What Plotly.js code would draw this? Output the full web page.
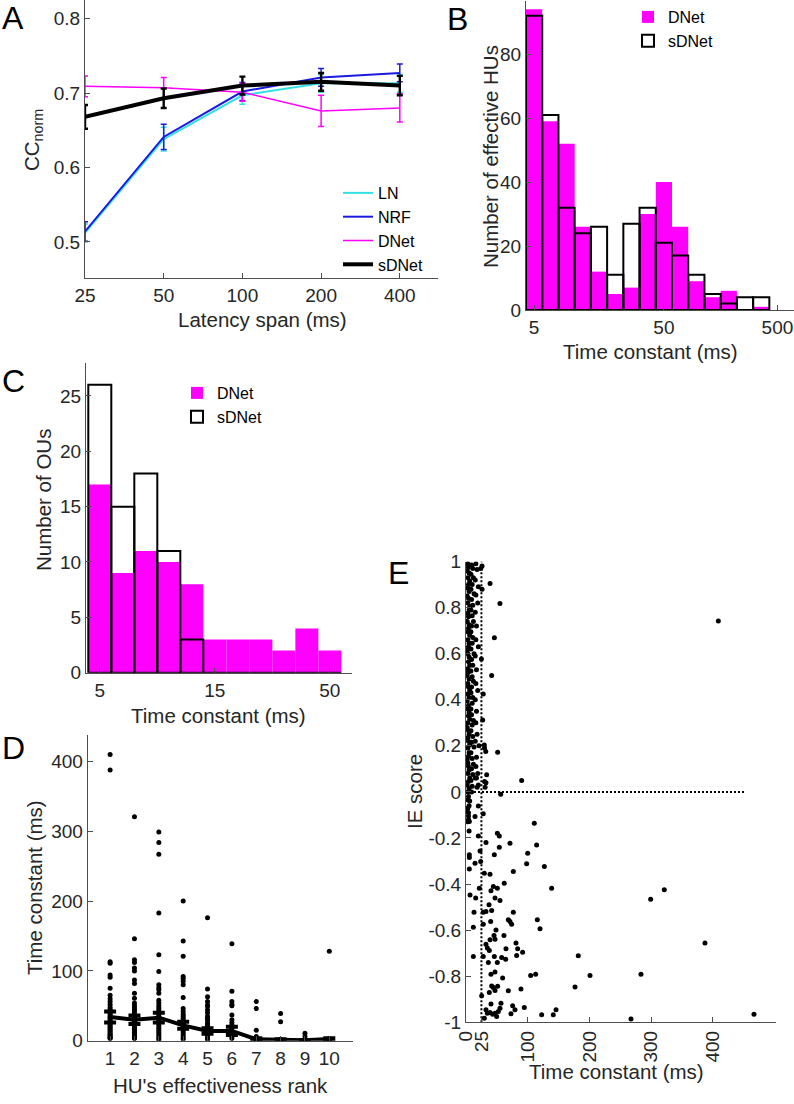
<!DOCTYPE html>
<html>
<head>
<meta charset="utf-8">
<script src="https://cdn.plot.ly/plotly-3.0.1.min.js"></script>
<style>
  html, body { margin: 0; padding: 0; background: #fff; }
  #fig { width: 794px; height: 1104px; }
</style>
</head>
<body>
<div id="fig"></div>
<script>
// ---- panel A: CCnorm vs latency span ----
var latency = [25, 50, 100, 200, 400];
var ccLN = [0.512, 0.638, 0.697, 0.713, 0.713];
var errLN = [0.012, 0.016, 0.012, 0.012, 0.012];
var ccNRF = [0.514, 0.641, 0.702, 0.721, 0.727];
var errNRF = [0.013, 0.017, 0.012, 0.012, 0.012];
var ccDNet = [0.709, 0.707, 0.701, 0.676, 0.680];
var errDNet = [0.014, 0.014, 0.012, 0.021, 0.019];
var ccSDNet = [0.668, 0.693, 0.710, 0.715, 0.710];
var errSDNet = [0.016, 0.013, 0.012, 0.012, 0.013];

// ---- panel B: histogram of HU time constants (log bins) ----
var binsB = [1, 2, 3, 4, 5, 6, 7, 8, 9, 10, 11, 12, 13, 14, 15];
var histB_DNet = [94, 59, 52, 26, 12, 5, 7, 30, 40, 26, 9, 4, 6, 0, 1];
var histB_sDNet = [92, 61, 32, 24, 26, 11, 27, 32, 21, 17, 11, 5, 2, 4, 4];
var tickPosB = [1, 9, 16];
var tickTextB = ['5', '50', '500'];

// ---- panel C: histogram of OU time constants ----
var binsC = [1, 2, 3, 4, 5, 6, 7, 8, 9, 10, 11];
var histC_DNet = [17, 9, 11, 10, 8, 3, 3, 3, 2, 4, 2];
var histC_sDNet = [26, 15, 18, 11, 3, 0, 0, 0, 0, 0, 0];
var tickPosC = [1, 6, 11];
var tickTextC = ['5', '15', '50'];

// ---- panel D: time constant vs effectiveness rank ----
var ranks = [1, 2, 3, 4, 5, 6, 7, 8, 9, 10];
var dRank1 = [410, 388, 113, 111, 94, 91, 75, 65, 60, 56, 52, 48, 45, 42, 40, 38, 35, 33, 31, 29, 27, 25, 23, 21, 19, 17, 15, 13, 11, 9, 8, 6, 5, 4, 3];
var dRank2 = [321, 146, 116, 112, 104, 100, 87, 82, 68, 61, 54, 50, 47, 44, 41, 38, 36, 34, 32, 30, 28, 26, 24, 22, 20, 18, 16, 14, 12, 10, 8, 6, 4, 3];
var dRank3 = [299, 284, 267, 183, 123, 99, 80, 76, 73, 68, 58, 54, 50, 47, 44, 41, 38, 35, 33, 30, 27, 24, 21, 18, 15, 12, 9, 6, 3, 1];
var dRank4 = [200, 143, 121, 92, 89, 85, 80, 62, 46, 42, 38, 35, 32, 29, 26, 23, 20, 17, 14, 11, 8, 5, 2];
var dRank5 = [176, 74, 63, 56, 51, 49, 44, 40, 35, 32, 29, 25, 22, 19, 16, 13, 10, 7, 4, 1];
var dRank6 = [139, 71, 56, 52, 50, 37, 30, 26, 22, 18, 14, 10, 6, 3];
var dRank7 = [56, 46, 15, 6, 1];
var dRank8 = [39, 27, 2];
var dRank9 = [10.5, 6, 1];
var dRank10 = [128, 3, 1];
var dMean = [34, 30, 33, 22, 14, 14, 2, 1, 0.5, 2.5];
var dErr = [8, 6, 7, 5, 4, 6, 1.5, 1, 0.5, 1];

// ---- panel E: IE score vs time constant ----
// dense column of short time constants
var eClusterA = [[3,0.99],[4,0.975],[2,0.96],[5,0.95],[3,0.93],[6,0.915],[4,0.9],[3,0.885],[5,0.87],[2,0.85],
  [4,0.84],[3,0.82],[6,0.805],[5,0.79],[3,0.775],[4,0.76],[2,0.74],[5,0.725],[4,0.71],[3,0.695],
  [6,0.68],[3,0.66],[5,0.645],[4,0.63],[2,0.615],[3,0.6],[5,0.585],[4,0.565],[6,0.55],[3,0.535],
  [4,0.52],[2,0.505],[5,0.49],[3,0.47],[4,0.455],[6,0.44],[3,0.425],[5,0.41],[2,0.395],[4,0.375],
  [3,0.36],[5,0.345],[4,0.33],[6,0.315],[3,0.3],[2,0.28],[4,0.265],[5,0.25],[3,0.235],[4,0.22],
  [6,0.205],[3,0.19],[5,0.17],[4,0.155],[2,0.14],[3,0.125],[4,0.11],[5,0.095],[3,0.08],[6,0.06],
  [4,0.045],[2,0.03],[5,0.015],[3,0.0],[4,-0.02],[3,-0.035],[5,-0.06],[2,-0.085],[4,-0.105],[3,-0.13]];
var eClusterB = [[9,0.985],[11,0.97],[8,0.945],[12,0.93],[10,0.9],[8,0.88],[13,0.86],[9,0.835],[11,0.81],[8,0.79],
  [10,0.765],[12,0.74],[9,0.72],[8,0.695],[11,0.67],[10,0.645],[8,0.62],[13,0.6],[9,0.575],[11,0.55],
  [8,0.525],[10,0.5],[12,0.48],[9,0.455],[8,0.43],[11,0.41],[10,0.385],[8,0.36],[9,0.335],[12,0.31],
  [10,0.29],[8,0.265],[11,0.24],[9,0.215],[13,0.195],[8,0.17],[10,0.145],[12,0.12],[9,0.1],[11,0.075],
  [8,0.05],[10,0.025],[9,0.0],[4,-0.09],[4,-0.12],[5,-0.17],[6,-0.04],[3,-0.07]];
var eClusterC = [[16,0.99],[18,0.965],[15,0.92],[20,0.89],[16,0.855],[19,0.82],[15,0.78],[17,0.72],[16,0.66],[20,0.63],
  [15,0.59],[17,0.53],[16,0.47],[19,0.44],[15,0.4],[17,0.35],[16,0.3],[18,0.25],[15,0.22],[21,0.2],
  [17,0.15],[16,0.11],[19,0.08],[15,0.06],[18,0.02],[17,0.06],[20,0.03],
  [25,0.577],[28,0.425],[27,0.312],[29.7,0.204],[32,0.175],[33.5,0.074],[32.4,0.04],[26,0.88],[30,0.19],
  [24,0.97],[26,0.98],[31,0.02],[30,0.045]];
// sparse points
var eScatter = [[39,0.905],[55,0.818],[409,0.742],[46,0.669],[41.6,0.505],[51.3,0.172],[90.2,0.049],[56.2,-0.01],
  [20,-0.061],[28,-0.095],[14.6,-0.107],[5.4,-0.129],[110.7,-0.136],[114.5,-0.23],[50.8,-0.179],[54,-0.191],
  [20,-0.191],[32.4,-0.22],[71.3,-0.223],[54,-0.24],[5.4,-0.273],[5.4,-0.285],[22.7,-0.256],[45.9,-0.273],
  [14.6,-0.31],[23.8,-0.302],[100,-0.266],[98.3,-0.312],[127,-0.324],[5.4,-0.335],[76.7,-0.346],[29.7,-0.353],
  [38.9,-0.357],[138.8,-0.418],[62,-0.396],[44.3,-0.411],[50.8,-0.418],[40.5,-0.429],[21.6,-0.418],[6.5,-0.447],
  [15.7,-0.461],[47,-0.461],[55.1,-0.471],[299.3,-0.466],[321.4,-0.425],[37.3,-0.49],[41.6,-0.515],[13,-0.522],
  [28,-0.522],[76.7,-0.522],[32.4,-0.519],[40,-0.562],[68.6,-0.555],[71.3,-0.562],[74,-0.574],[115.6,-0.555],
  [120,-0.594],[11.9,-0.587],[48.6,-0.599],[28,-0.574],[61.5,-0.623],[45.4,-0.623],[38.9,-0.642],[47,-0.639],
  [81,-0.656],[32.4,-0.661],[387.3,-0.656],[34.6,-0.678],[37.8,-0.688],[64.8,-0.681],[83.7,-0.681],[91.8,-0.696],
  [82.1,-0.71],[11.9,-0.714],[28,-0.714],[45.9,-0.714],[57.8,-0.719],[64.3,-0.726],[182,-0.711],[36.2,-0.74],
  [50.8,-0.74],[47,-0.782],[40.5,-0.791],[104.8,-0.797],[112.9,-0.791],[201,-0.797],[283.6,-0.791],[59.4,-0.808],
  [41.6,-0.842],[44.3,-0.849],[51.3,-0.844],[47,-0.862],[37.8,-0.871],[68.6,-0.863],[89.1,-0.856],[176.7,-0.847],
  [25.4,-0.885],[40.5,-0.921],[56.7,-0.917],[75.6,-0.928],[79.4,-0.946],[94.5,-0.936],[32.4,-0.946],[34.6,-0.961],
  [38.9,-0.957],[43.2,-0.965],[47,-0.961],[52.4,-0.953],[55.1,-0.939],[72.9,-0.963],[122.6,-0.967],[141.5,-0.967],
  [145.9,-0.946],[267.4,-0.986],[466.8,-0.965],[29.7,-0.982],[49.7,-0.975]];
var eCutX = [25, 25], eCutY = [-1, 1];
var eZeroX = [0, 452], eZeroY = [0, 0];
var eTickX = [0, 25, 100, 200, 300, 400];
var eTickY = [-1, -0.8, -0.6, -0.4, -0.2, 0, 0.2, 0.4, 0.6, 0.8, 1];
var eTickYText = ['-1', '-0.8', '-0.6', '-0.4', '-0.2', '0', '0.2', '0.4', '0.6', '0.8', '1'];

var FONT = 'Liberation Sans, Arial, Helvetica, sans-serif';
var MAG = '#ff00ff';

function ax(extra) {
  return Object.assign({
    showline: true, linecolor: '#4d4d4d', linewidth: 1,
    ticks: 'inside', ticklen: 5, tickcolor: '#4d4d4d', tickwidth: 1,
    showgrid: false, zeroline: false, fixedrange: true,
    tickfont: { size: 19, color: '#262626', family: FONT }
  }, extra);
}

function errLine(name, y, err, color, w) {
  return {
    type: 'scatter', mode: 'lines', name: name, x: latency, y: y,
    line: { color: color, width: w },
    error_y: { type: 'data', array: err, color: color, thickness: Math.max(1.5, w * 0.6), width: 3 },
    xaxis: 'x', yaxis: 'y', legend: 'legend'
  };
}

var traces = [
  errLine('LN', ccLN, errLN, '#33e0e6', 2),
  errLine('NRF', ccNRF, errNRF, '#1a1ae0', 2),
  errLine('DNet', ccDNet, errDNet, MAG, 1.5),
  errLine('sDNet', ccSDNet, errSDNet, '#000', 4),

  { type: 'bar', name: 'DNet', x: binsB, y: histB_DNet, width: 1,
    marker: { color: MAG, line: { width: 0 } }, xaxis: 'x2', yaxis: 'y2', legend: 'legend2' },
  { type: 'bar', name: 'sDNet', x: binsB, y: histB_sDNet, width: 1,
    marker: { color: 'rgba(255,255,255,0)', line: { color: '#000', width: 2 } }, xaxis: 'x2', yaxis: 'y2', legend: 'legend2' },

  { type: 'bar', name: 'DNet', x: binsC, y: histC_DNet, width: 1,
    marker: { color: MAG, line: { width: 0 } }, xaxis: 'x3', yaxis: 'y3', legend: 'legend3' },
  { type: 'bar', name: 'sDNet', x: binsC, y: histC_sDNet, width: 1,
    marker: { color: 'rgba(255,255,255,0)', line: { color: '#000', width: 2 } }, xaxis: 'x3', yaxis: 'y3', legend: 'legend3' }
];

// panel D dots
var dRanks = [dRank1, dRank2, dRank3, dRank4, dRank5, dRank6, dRank7, dRank8, dRank9, dRank10];
var dx = [], dy = [];
dRanks.forEach(function (vals, i) {
  vals.forEach(function (v) { dx.push(ranks[i]); dy.push(v); });
});
traces.push({ type: 'scatter', mode: 'markers', x: dx, y: dy, showlegend: false,
  marker: { color: '#000', size: 5 }, xaxis: 'x4', yaxis: 'y4' });
traces.push({ type: 'scatter', mode: 'lines', x: ranks, y: dMean, showlegend: false,
  line: { color: '#000', width: 4 },
  error_y: { type: 'data', array: dErr, color: '#000', thickness: 4, width: 6 },
  xaxis: 'x4', yaxis: 'y4' });

// panel E
traces.push({ type: 'scatter', mode: 'lines', x: eCutX, y: eCutY, showlegend: false,
  line: { color: '#000', width: 2, dash: '2px,2px' }, xaxis: 'x5', yaxis: 'y5' });
traces.push({ type: 'scatter', mode: 'lines', x: eZeroX, y: eZeroY, showlegend: false,
  line: { color: '#000', width: 2, dash: '2px,2px' }, xaxis: 'x5', yaxis: 'y5' });
var ePts = eClusterA.concat(eClusterB, eClusterC, eScatter);
traces.push({ type: 'scatter', mode: 'markers', showlegend: false,
  x: ePts.map(function (p) { return p[0]; }), y: ePts.map(function (p) { return p[1]; }),
  marker: { color: '#000', size: 5 }, xaxis: 'x5', yaxis: 'y5' });

function px(x) { return x / 794; }
function py(y) { return 1 - y / 1104; }

function note(text, x, y, size, angle) {
  return { text: text, x: px(x), y: py(y), xref: 'paper', yref: 'paper', showarrow: false,
    xanchor: 'center', yanchor: 'middle', textangle: angle || 0,
    font: { family: FONT, size: size, color: angle === undefined && size > 25 ? '#000' : '#262626' } };
}

var legendBase = { bgcolor: 'rgba(0,0,0,0)', borderwidth: 0, font: { family: FONT, size: 16, color: '#000' },
  xanchor: 'left', yanchor: 'top', itemwidth: 30, tracegroupgap: 0, itemclick: false };

var layout = {
  width: 794, height: 1104,
  margin: { l: 0, r: 0, t: 0, b: 0 },
  paper_bgcolor: '#fff', plot_bgcolor: 'rgba(0,0,0,0)',
  font: { family: FONT, color: '#262626' },
  barmode: 'overlay', showlegend: true,
  legend: Object.assign({}, legendBase, { x: px(338), y: py(176) }),
  legend2: Object.assign({}, legendBase, { x: px(628), y: py(0) }),
  legend3: Object.assign({}, legendBase, { x: px(177), y: py(376) }),

  xaxis: ax({ type: 'log', range: [Math.log10(25), Math.log10(560)], tickvals: latency,
    domain: [px(85), px(438)], anchor: 'y' }),
  yaxis: ax({ range: [0.4515, 0.825], tickvals: [0.5, 0.6, 0.7, 0.8],
    domain: [py(278), 1], anchor: 'x' }),

  xaxis2: ax({ range: [0.5, 17.02], tickvals: tickPosB, ticktext: tickTextB,
    domain: [px(526), 1], anchor: 'y2' }),
  yaxis2: ax({ range: [0, 96.6], tickvals: [0, 20, 40, 60, 80],
    domain: [py(310), py(1)], anchor: 'x2' }),

  xaxis3: ax({ range: [0.4, 11.95], tickvals: tickPosC, ticktext: tickTextC,
    domain: [px(86), px(351.7)], anchor: 'y3' }),
  yaxis3: ax({ range: [0, 28], tickvals: [0, 5, 10, 15, 20, 25],
    domain: [py(672.7), py(362.7)], anchor: 'x3' }),

  xaxis4: ax({ range: [0.08, 10.96], tickvals: ranks,
    domain: [px(87.7), px(352.7)], anchor: 'y4' }),
  yaxis4: ax({ range: [0, 438], tickvals: [0, 100, 200, 300, 400],
    domain: [py(1040.7), py(735)], anchor: 'x4' }),

  xaxis5: ax({ range: [0, 502], tickvals: eTickX, tickangle: -90,
    domain: [px(466), px(775.7)], anchor: 'y5' }),
  yaxis5: ax({ range: [-1, 1], tickvals: eTickY, ticktext: eTickYText,
    domain: [py(1022.3), py(561.5)], anchor: 'x5' }),

  annotations: [
    note('A', 13, 18, 32), note('B', 457, 19, 32), note('C', 13, 381, 32),
    note('D', 13, 748, 32), note('E', 398, 573, 32),
    note('CC<sub>norm</sub>', 33, 140, 20.5, -90),
    note('Latency span (ms)', 262, 320, 20.5, 0),
    note('Number of effective HUs', 490, 157, 20.5, -90),
    note('Time constant (ms)', 650, 352, 20.5, 0),
    note('Number of OUs', 43, 500, 20.5, -90),
    note('Time constant (ms)', 218, 715, 20.5, 0),
    note('Time constant (ms)', 34, 888, 20.5, -90),
    note("HU's effectiveness rank", 220, 1085, 20.5, 0),
    note('IE score', 414, 792, 20.5, -90),
    note('Time constant (ms)', 616, 1071, 20.5, 0)
  ]
};

Plotly.newPlot('fig', traces, layout, { displayModeBar: false, staticPlot: true });
</script>
</body>
</html>
